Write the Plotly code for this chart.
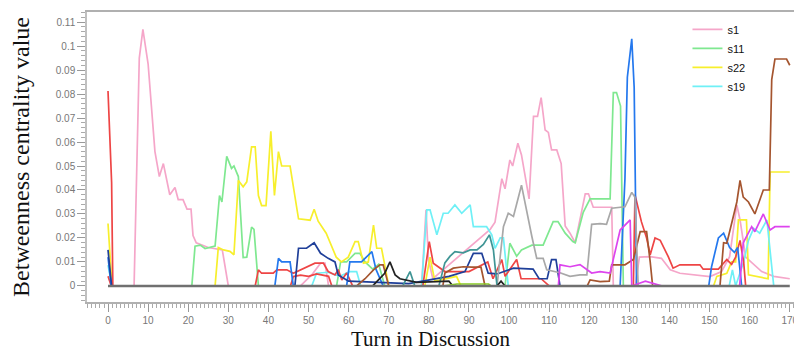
import plotly.graph_objects as go

# ---- data (turn, betweenness) ----
s1_t = [0, 6.5, 7.8, 8.7, 10, 11.7, 12.8, 13.8, 15.4, 16.7, 17.5, 18.7, 19.7, 20.7, 21.2, 22, 25, 28.5, 30, 48, 49.5, 50.8, 53, 54.1, 55, 78.2, 79.3, 79.9, 81, 95.3, 96.5, 98.2, 99, 100.2, 100.9, 102.2, 103.1, 105, 106.1, 107.1, 108, 109, 109.8, 110.6, 111.9, 113, 114, 115.2, 116.5, 119, 119.8, 121, 124.8, 125.6, 126, 131.5, 132.5, 135.2, 138, 140.2, 142.6, 150.1, 153, 155, 156.8, 157.6, 159, 161, 163, 166, 170]
s1_v = [0, 0, 0.095, 0.107, 0.0925, 0.056, 0.0456, 0.051, 0.038, 0.041, 0.036, 0.036, 0.032, 0.032, 0.021, 0.018, 0.016, 0.015, 0, 0, 0.0025, 0.0046, 0.0095, 0.0095, 0, 0, 0.0317, 0.011, 0.003, 0.0236, 0.0266, 0.0447, 0.0405, 0.0525, 0.05, 0.0595, 0.0546, 0.0363, 0.0707, 0.0707, 0.0785, 0.065, 0.064, 0.0567, 0.0567, 0.051, 0.025, 0.022, 0.018, 0.0384, 0.0384, 0.0328, 0.0328, 0.0328, 0, 0, 0.012, 0.0122, 0.0115, 0.0067, 0.0053, 0.0039, 0.006, 0.0122, 0.0338, 0.0275, 0.012, 0.009, 0.006, 0.004, 0.003]

s11_t = [20.9, 21.7, 23, 24.2, 26.7, 27.8, 28.4, 29.6, 30.8, 31.4, 32.5, 33.7, 34.6, 35.8, 36.4, 37.5, 57, 58, 59.5, 61.6, 62.8, 64.1, 66, 67.5, 69, 99, 100.2, 101.9, 103.1, 105.7, 108.5, 111, 112.2, 114, 115.9, 116.5, 118.5, 120.2, 125.2, 126, 126.8, 127.8, 128.5]
s11_v = [0, 0.0166, 0.017, 0.0156, 0.0166, 0.0377, 0.035, 0.054, 0.049, 0.050, 0.0456, 0.0118, 0.012, 0.0245, 0.0236, 0, 0, 0.01, 0.01, 0.0136, 0.0136, 0.01, 0.007, 0.009, 0, 0, 0.0178, 0.0124, 0.015, 0.017, 0.017, 0.0268, 0.0268, 0.022, 0.0185, 0.018, 0.0307, 0.0363, 0.0363, 0.0806, 0.0806, 0.075, 0]

s22_t = [0, 1, 26.7, 27.5, 28.8, 30.4, 31.4, 32.5, 33.7, 34.6, 35.8, 36.7, 37.5, 38.3, 39.4, 40.6, 41.5, 42.5, 43.3, 45.4, 47.5, 50.4, 51.4, 52.4, 54.4, 56.9, 58.2, 59.9, 61.6, 62.4, 63.7, 64.9, 66.2, 67, 68.2, 69.5, 70, 79, 80.3, 81.5, 86.9, 88, 151, 151.8, 154.3, 155.5, 156.5, 157.2, 159.2, 159.7, 164.6, 165.1, 170]
s22_v = [0.026, 0, 0, 0.016, 0.015, 0.0144, 0.013, 0.044, 0.0413, 0.0434, 0.058, 0.058, 0.0377, 0.0335, 0.0335, 0.0645, 0.0377, 0.056, 0.050, 0.050, 0.028, 0.0274, 0.032, 0.027, 0.022, 0.012, 0.01, 0.012, 0.0185, 0.0185, 0.0095, 0.01, 0.0254, 0.0157, 0.0157, 0.0039, 0, 0, 0.012, 0.002, 0.004, 0, 0, 0.004, 0.0053, 0.01, 0.01, 0.0275, 0.0275, 0.0046, 0.003, 0.0475, 0.0475]

s19_t = [0, 1, 50.8, 52, 54.9, 57.8, 60.3, 62, 63, 78.2, 79.5, 80.3, 82, 83.6, 84.8, 86.5, 88.2, 90.3, 91.1, 94.4, 95.7, 96.5, 97.8, 98.6, 99.8, 154.9, 155.7, 156.5, 158.5, 159.7, 161, 162.5, 164.3, 165, 166]
s19_v = [0.0087, 0, 0, 0.0053, 0.0057, 0.004, 0.006, 0.006, 0, 0, 0.0317, 0.0317, 0.0213, 0.0303, 0.0303, 0.0338, 0.0303, 0.0338, 0.0247, 0.0247, 0.0213, 0.0157, 0.02, 0.02, 0, 0, 0.0067, 0, 0.01, 0.019, 0.024, 0.022, 0.0275, 0.015, 0]

red_t = [0, 0.6, 0.9, 1.2, 36.7, 37.5, 38.3, 41.2, 42.1, 44.6, 46.2, 51.6, 53.7, 54.9, 56.6, 57.4, 58.3, 59.5, 61, 78.5, 79.5, 80.1, 81.1, 84, 90, 94.7, 96, 98.2, 99, 101.9, 103, 108, 110, 131, 131.4, 132.2, 133, 134.3, 135.2, 136.4, 137.7, 139.7, 140.9, 142.6, 147.6, 148.4, 152.2, 154.3, 155.5, 156.5, 157.6, 158.5, 159]
red_v = [0.0813, 0.06, 0.043, 0, 0, 0.0067, 0.0053, 0.0053, 0.0067, 0.0067, 0.0053, 0.0095, 0.0095, 0.006, 0.0046, 0.0068, 0.0025, 0.0054, 0, 0, 0.011, 0.0185, 0.0095, 0.006, 0.006, 0.01, 0.003, 0.011, 0.004, 0.011, 0.003, 0.003, 0, 0, 0.038, 0.033, 0.0268, 0.02, 0.013, 0.02, 0.019, 0.0122, 0.0074, 0.0088, 0.0088, 0.007, 0.007, 0.011, 0.009, 0.012, 0.019, 0.01, 0]

red2_t = [0, 0.8, 45.5, 46.2, 48, 50, 52, 55, 55.8]
red2_v = [0.004, 0, 0, 0.0039, 0.0045, 0.004, 0.005, 0.004, 0]

blue_t = [0, 0.8, 41.6, 42.5, 43.3, 45.4, 46.2, 59.5, 60.3, 63.2, 65.8, 66.8, 68.6, 127.7, 128.9, 129.5, 130.6, 131.2, 131.8, 149.8, 150.5, 152.2, 153.5, 155, 156.2, 157, 158]
blue_v = [0.012, 0, 0, 0.0115, 0.01, 0.01, 0, 0, 0.01, 0.01, 0.0143, 0.007, 0, 0, 0.0447, 0.087, 0.103, 0.0827, 0, 0, 0.008, 0.02, 0.022, 0.016, 0.014, 0.016, 0]

navy_t = [0, 0.9, 46.6, 47.5, 49.5, 51.4, 53, 54.9, 56.6, 57.4, 60, 75, 85, 89, 91.1, 93.2, 94.8, 97, 101.1, 106, 107.5, 109.5, 110.6, 111.7, 112.7]
navy_v = [0.015, 0, 0, 0.0157, 0.0157, 0.018, 0.0136, 0.0115, 0.01, 0.0046, 0.002, 0.001, 0.004, 0.006, 0.0136, 0.0136, 0.0053, 0.005, 0.0074, 0.007, 0.003, 0.003, 0.011, 0.011, 0]

brown_t = [62, 62.8, 64.1, 66.2, 67.8, 68.6, 69.4, 70, 83.5, 84, 86.1, 88.6, 90.7, 93, 94, 119.5, 120.2, 122.7, 125, 125.6, 128.9, 131, 132.7, 134.3, 135.2, 135.8, 152.6, 153.5, 154.3, 155.5, 156.8, 157.6, 158.4, 159.7, 161.3, 163.4, 164.9, 165.5, 166.3, 169.2, 170]
brown_v = [0, 0.001, 0.003, 0.0067, 0.0088, 0.0088, 0.003, 0, 0, 0.0054, 0.0074, 0.008, 0.0078, 0.0078, 0, 0, 0.0025, 0.0018, 0.002, 0.0088, 0.0088, 0.011, 0.0226, 0.0226, 0.01, 0, 0, 0.018, 0.0178, 0.026, 0.035, 0.044, 0.037, 0.035, 0.03, 0.04, 0.04, 0.086, 0.0946, 0.0946, 0.092]

gray_t = [97, 98.6, 99.8, 101.1, 103.1, 104.8, 105.7, 106.9, 108.5, 109.4, 112.7, 115.2, 117.7, 119.4, 120.6, 122.7, 124.3, 125.6, 128.9, 130.6, 131.4, 132.2]
gray_v = [0, 0.0247, 0.0303, 0.029, 0.042, 0.0275, 0.0205, 0.0115, 0.0115, 0.0067, 0.0055, 0.004, 0.0046, 0.0046, 0.0257, 0.026, 0.0257, 0.0324, 0.033, 0.039, 0.037, 0]

teal_t = [73.5, 75.3, 76.5, 82.5, 84, 85.3, 86.5, 88.6, 90.3, 92, 93.6, 95.1, 96.1, 97]
teal_v = [0, 0.006, 0, 0, 0.0096, 0.0124, 0.0143, 0.0138, 0.015, 0.015, 0.0173, 0.0213, 0.015, 0]

magenta_t = [112.3, 112.7, 115.2, 117.7, 120.6, 122.7, 125.2, 127.7, 130.2, 130.6, 134, 136, 138, 157.5, 158.4, 160.5, 161.3, 163.4, 165.1, 166.3, 169.2, 170]
magenta_v = [0, 0.0088, 0.008, 0.0089, 0.0054, 0.006, 0.0054, 0.0233, 0.0275, 0, 0.002, 0.001, 0, 0, 0.018, 0.0247, 0.0226, 0.03, 0.0233, 0.0247, 0.0247, 0.0247]

black_t = [66, 67.8, 69, 70.3, 71.6, 72.8, 77, 85, 86, 97, 98, 99]
black_v = [0, 0.003, 0.0053, 0.01, 0.0046, 0.003, 0.0015, 0.002, 0, 0, 0.002, 0]

lime_t = [84, 87, 94.9, 95.5]
lime_v = [0, 0.0008, 0.0008, 0]

base_t = [0, 170]
base_v = [0, 0]

series = [
    ("s1", s1_t, s1_v, "#f5a6c9", True),
    ("s11", s11_t, s11_v, "#7fe890", True),
    ("s22", s22_t, s22_v, "#f7ef2c", True),
    ("s19", s19_t, s19_v, "#6ff0f6", True),
    ("red", red_t, red_v, "#ee4545", False),
    ("red2", red2_t, red2_v, "#ee4545", False),
    ("blue", blue_t, blue_v, "#2478ee", False),
    ("navy", navy_t, navy_v, "#1f3f99", False),
    ("brown", brown_t, brown_v, "#a5552f", False),
    ("gray", gray_t, gray_v, "#a8a8a8", False),
    ("teal", teal_t, teal_v, "#3f9595", False),
    ("magenta", magenta_t, magenta_v, "#dd44ee", False),
    ("black", black_t, black_v, "#222222", False),
    ("lime", lime_t, lime_v, "#88cc22", False),
    ("base", base_t, base_v, "#707070", False),
]

fig = go.Figure()
for name, t, v, col, leg in series:
    fig.add_trace(go.Scatter(
        x=t, y=v, mode="lines", name=name, showlegend=leg,
        line=dict(color=col, width=2.6 if name == "base" else 1.7),
    ))

# page body adds an 8px offset, so the figure is sized 794x346
tickfont = dict(family="Liberation Sans, Arial", size=10, color="#777777")
fig.update_layout(
    width=794, height=346,
    margin=dict(l=79, r=1, t=4, b=52),
    paper_bgcolor="white", plot_bgcolor="white",
    showlegend=True,
    legend=dict(x=0.841, y=0.99, xanchor="left", yanchor="top",
                bgcolor="rgba(0,0,0,0)", font=dict(family="Liberation Sans, Arial", size=11, color="#111"),
                tracegroupgap=0),
    xaxis=dict(
        range=[-5.24, 172.8], dtick=10, tick0=0, automargin=False,
        showgrid=False, zeroline=False,
        showline=True, linecolor="#b0b0b0", linewidth=1.5, mirror=True,
        ticks="outside", ticklen=8, tickcolor="#999999", tickwidth=1,
        minor=dict(dtick=1, ticklen=4, tickcolor="#aaaaaa", ticks="outside"),
        tickfont=tickfont, ticklabeloverflow="allow",
    ),
    yaxis=dict(
        range=[-0.0067, 0.1142], dtick=0.01, tick0=0, automargin=False,
        showgrid=False, zeroline=False,
        showline=True, linecolor="#c0c0c0", linewidth=1.5, mirror=True,
        ticks="outside", ticklen=8, tickcolor="#999999", tickwidth=1,
        minor=dict(dtick=0.002, ticklen=4, tickcolor="#aaaaaa", ticks="outside"),
        tickfont=tickfont,
        title=dict(text="Betweenness centrality value", font=dict(family="Liberation Serif, Times New Roman", size=24, color="#111"), standoff=30),
    ),
    annotations=[dict(
        text="Turn in Discussion", xref="paper", yref="paper",
        x=0.482, y=-0.128, xanchor="center", yanchor="middle", showarrow=False,
        font=dict(family="Liberation Serif, Times New Roman", size=21, color="#111"),
    )],
)

fig.write_html("out.html")
